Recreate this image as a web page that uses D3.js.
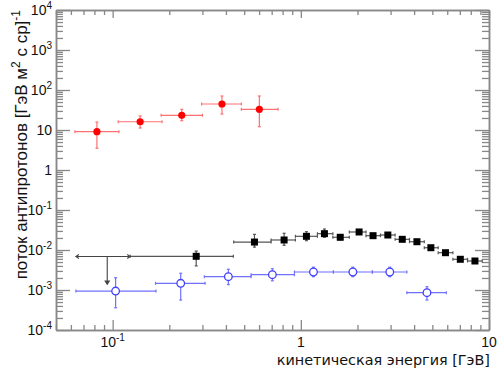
<!DOCTYPE html>
<html>
<head>
<meta charset="utf-8">
<script src="https://cdn.jsdelivr.net/npm/d3@7"></script>
<style>
  body { margin: 0; background: #fff; }
  svg { display: block; }
</style>
</head>
<body>
<svg width="500" height="375"></svg>
<script>
// red points (filled circles)
const redX   = [0.0825, 0.140, 0.233, 0.381, 0.602];
const redXlo = [0.063, 0.107, 0.181, 0.297, 0.483];
const redXhi = [0.108, 0.183, 0.300, 0.483, 0.757];
const redY   = [9.1, 16.1, 23.3, 44.7, 32.9];
const redYlo = [3.5, 11.2, 17.1, 25.1, 12.1];
const redYhi = [15.8, 22.4, 32.9, 70.8, 70.8];

// black points (filled squares)
const blkX   = [0.278, 0.567, 0.815, 1.071, 1.335, 1.62, 2.04, 2.42, 2.90, 3.46, 4.14, 4.91, 5.87, 7.04, 8.42];
const blkXlo = [0.124, 0.440, 0.695, 0.936, 1.225, 1.48, 1.81, 2.22, 2.65, 3.17, 3.78, 4.53, 5.37, 6.43, 7.69];
const blkXhi = [0.438, 0.695, 0.936, 1.225, 1.48, 1.81, 2.22, 2.65, 3.17, 3.78, 4.53, 5.37, 6.43, 7.69, 9.2];
const blkY   = [0.00696, 0.0158, 0.0178, 0.0220, 0.0256, 0.0208, 0.0282, 0.0228, 0.0237, 0.0185, 0.0161, 0.0114, 0.00856, 0.00586, 0.00531];
const blkYlo = [0.0040, 0.0118, 0.0131, 0.0171, 0.0208, 0.0180, 0.0250, 0.0205, 0.0213, 0.0167, 0.0146, 0.0104, 0.0078, 0.0054, 0.0049];
const blkYhi = [0.0094, 0.0246, 0.0262, 0.0287, 0.0335, 0.0240, 0.0325, 0.0255, 0.0265, 0.0206, 0.0178, 0.0126, 0.0094, 0.0064, 0.0058];

// blue points (open circles)
const bluX   = [0.1037, 0.230, 0.412, 0.706, 1.167, 1.89, 2.97, 4.68];
const bluXlo = [0.0638, 0.169, 0.307, 0.544, 0.925, 1.49, 2.40, 3.66];
const bluXhi = [0.170, 0.310, 0.544, 0.925, 1.49, 2.40, 3.66, 5.93];
const bluY   = [0.00094, 0.00147, 0.00215, 0.00241, 0.00282, 0.00282, 0.00282, 0.000856];
const bluYlo = [0.00036, 0.00056, 0.00136, 0.0017, 0.00215, 0.00215, 0.00215, 0.00056];
const bluYhi = [0.00203, 0.00262, 0.0033, 0.0034, 0.00372, 0.00372, 0.00372, 0.00121];

// upper limit
const limX = [0.0638, 0.124];
const limArrowX = 0.0936;
const limY = 0.0069;
const limYto = 0.0014;

const xMajor = [0.1, 1, 10];
const xMajorLabels = [['10', '-1'], ['1', ''], ['10', '']];
const yMajor = [1e4, 1e3, 1e2, 10, 1, 0.1, 0.01, 0.001, 1e-4];
const yMajorLabels = [['10','4'], ['10','3'], ['10','2'], ['10',''], ['1',''], ['10','-1'], ['10','-2'], ['10','-3'], ['10','-4']];

const mLeft = 56, mRight = 489, mTop = 10, mBottom = 330;
const svg = d3.select('svg');

const x = d3.scaleLog().domain([0.05, 10]).range([mLeft, mRight]);
const y = d3.scaleLog().domain([1e-4, 1e4]).range([mBottom, mTop]);

const axisCol = '#888';

// minor ticks
const xMinor = x.ticks().filter(v => !xMajor.some(m => Math.abs(m - v) / m < 1e-6));
const yMinor = y.ticks().filter(v => !yMajor.some(m => Math.abs(m - v) / m < 1e-6));

function drawAxis(axis, transform) {
  const g = svg.append('g').attr('transform', transform).call(axis);
  g.select('.domain').attr('stroke', axisCol).attr('stroke-width', 1.5);
  g.selectAll('.tick line').attr('stroke', axisCol).attr('stroke-width', 1.3);
  g.selectAll('.tick text').remove();
  return g;
}

drawAxis(d3.axisBottom(x).tickValues(xMinor).tickSize(-5).tickSizeOuter(0), `translate(0,${mBottom})`);
drawAxis(d3.axisBottom(x).tickValues(xMajor).tickSize(-10).tickSizeOuter(0), `translate(0,${mBottom})`);
drawAxis(d3.axisTop(x).tickValues(xMinor).tickSize(-5).tickSizeOuter(0), `translate(0,${mTop})`);
drawAxis(d3.axisTop(x).tickValues(xMajor).tickSize(-8).tickSizeOuter(0), `translate(0,${mTop})`);
drawAxis(d3.axisLeft(y).tickValues(yMinor).tickSize(-7).tickSizeOuter(0), `translate(${mLeft},0)`);
drawAxis(d3.axisLeft(y).tickValues(yMajor).tickSize(-14).tickSizeOuter(0), `translate(${mLeft},0)`);
drawAxis(d3.axisRight(y).tickValues(yMinor).tickSize(-7).tickSizeOuter(0), `translate(${mRight},0)`);
drawAxis(d3.axisRight(y).tickValues(yMajor).tickSize(-14).tickSizeOuter(0), `translate(${mRight},0)`);

// tick labels
const yl = svg.append('g').selectAll('text')
  .data(yMajor).enter().append('text')
  .attr('x', 52)
  .attr('y', d => y(d) + 5)
  .attr('text-anchor', 'end')
  .style('font-family', '"Liberation Sans", Arial, sans-serif')
  .style('font-size', '14px')
  .attr('fill', '#111');
yl.append('tspan').text((d, i) => yMajorLabels[i][0]);
yl.append('tspan').attr('dy', -6).style('font-size', '10px').text((d, i) => yMajorLabels[i][1]);

const xl = svg.append('g').selectAll('text')
  .data(xMajor).enter().append('text')
  .attr('x', d => x(d))
  .attr('y', 347)
  .attr('text-anchor', 'middle')
  .style('font-family', '"Liberation Sans", Arial, sans-serif')
  .style('font-size', '14px')
  .attr('fill', '#111');
xl.append('tspan').text((d, i) => xMajorLabels[i][0]);
xl.append('tspan').attr('dy', -6).style('font-size', '10px').text((d, i) => xMajorLabels[i][1]);

// axis titles
svg.append('text')
  .attr('x', 490).attr('y', 365)
  .attr('text-anchor', 'end')
  .style('font-family', '"DejaVu Sans", Verdana, sans-serif')
  .style('font-size', '14.4px')
  .attr('fill', '#111')
  .text('кинетическая энергия [ГэВ]');

const yt = svg.append('text')
  .attr('transform', 'translate(27,10) rotate(-90)')
  .attr('text-anchor', 'end')
  .style('font-family', '"Liberation Sans", Arial, sans-serif')
  .style('font-size', '17px')
  .attr('fill', '#111');
yt.append('tspan').text('поток антипротонов [ГэВ м');
yt.append('tspan').attr('dy', -7).style('font-size', '12px').text('2');
yt.append('tspan').attr('dy', 7).text(' с ср]');
yt.append('tspan').attr('dy', -7).style('font-size', '12px').text('-1');

// error bars
function errorBars(xs, xlo, xhi, ys, ylo, yhi, col) {
  const g = svg.append('g').attr('stroke', col).attr('stroke-width', 1.2).attr('fill', 'none');
  xs.forEach((xv, i) => {
    const cx = x(xv), cy = y(ys[i]);
    const x0 = x(xlo[i]), x1 = x(xhi[i]);
    const y0 = y(ylo[i]), y1 = y(yhi[i]);
    g.append('line').attr('x1', x0).attr('x2', x1).attr('y1', cy).attr('y2', cy);
    g.append('line').attr('x1', x0).attr('x2', x0).attr('y1', cy - 1.5).attr('y2', cy + 1.5);
    g.append('line').attr('x1', x1).attr('x2', x1).attr('y1', cy - 1.5).attr('y2', cy + 1.5);
    g.append('line').attr('x1', cx).attr('x2', cx).attr('y1', y0).attr('y2', y1);
    g.append('line').attr('x1', cx - 1.5).attr('x2', cx + 1.5).attr('y1', y0).attr('y2', y0);
    g.append('line').attr('x1', cx - 1.5).attr('x2', cx + 1.5).attr('y1', y1).attr('y2', y1);
  });
}

// black
errorBars(blkX, blkXlo, blkXhi, blkY, blkYlo, blkYhi, '#555');
svg.append('g').selectAll('rect')
  .data(blkX).enter().append('rect')
  .attr('x', d => x(d) - 3.5)
  .attr('y', (d, i) => y(blkY[i]) - 3.5)
  .attr('width', 7).attr('height', 7)
  .attr('fill', '#000');

// upper limit
const lim = svg.append('g').attr('stroke', '#444').attr('stroke-width', 1.1).attr('fill', 'none');
lim.append('line').attr('x1', x(limX[0])).attr('x2', x(limX[1])).attr('y1', y(limY)).attr('y2', y(limY));
lim.append('path').attr('d', `M${x(limX[0]) + 3},${y(limY) - 2}L${x(limX[0])},${y(limY)}L${x(limX[0]) + 3},${y(limY) + 2}`);
lim.append('path').attr('d', `M${x(limX[1]) - 3},${y(limY) - 2}L${x(limX[1])},${y(limY)}L${x(limX[1]) - 3},${y(limY) + 2}`);
lim.append('line').attr('x1', x(limArrowX)).attr('x2', x(limArrowX)).attr('y1', y(limY)).attr('y2', y(limYto));
lim.append('path').attr('d', `M${x(limArrowX) - 2},${y(limYto) - 3}L${x(limArrowX)},${y(limYto)}L${x(limArrowX) + 2},${y(limYto) - 3}Z`).attr('fill', '#444');

// blue
errorBars(bluX, bluXlo, bluXhi, bluY, bluYlo, bluYhi, '#7070ff');
svg.append('g').selectAll('circle')
  .data(bluX).enter().append('circle')
  .attr('cx', d => x(d))
  .attr('cy', (d, i) => y(bluY[i]))
  .attr('r', 3.8)
  .attr('fill', '#fff')
  .attr('stroke', '#4040ff')
  .attr('stroke-width', 1.3);

// red
errorBars(redX, redXlo, redXhi, redY, redYlo, redYhi, '#ff7070');
svg.append('g').selectAll('circle')
  .data(redX).enter().append('circle')
  .attr('cx', d => x(d))
  .attr('cy', (d, i) => y(redY[i]))
  .attr('r', 3.6)
  .attr('fill', '#ff0000');
</script>
</body>
</html>
